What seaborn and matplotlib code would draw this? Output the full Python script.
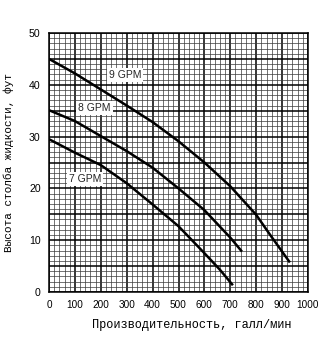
import numpy as np
import pandas as pd
import matplotlib
matplotlib.use("Agg")
import matplotlib.pyplot as plt
import seaborn as sns
from matplotlib.ticker import MultipleLocator

# Data
flow_9 = [0, 100, 200, 300, 400, 500, 600, 700, 800, 850, 930]
head_9 = [45.0, 42.2, 39.1, 36.0, 32.8, 29.1, 25.0, 20.4, 14.9, 11.3, 5.7]
flow_8 = [0, 100, 200, 300, 400, 500, 600, 700, 745]
head_8 = [35.1, 33.0, 30.1, 27.2, 24.0, 20.0, 15.8, 10.5, 7.8]
flow_7 = [0, 100, 200, 300, 400, 500, 600, 660, 710]
head_7 = [29.5, 26.9, 24.5, 21.0, 16.9, 12.7, 7.5, 4.3, 1.3]
series_names = ["9 GPM", "8 GPM", "7 GPM"]
label_pos_x = [293, 175, 139]
label_pos_y = [41.9, 35.5, 21.8]
x_ticks = list(range(0, 1001, 100))
y_ticks = list(range(0, 51, 10))
x_label = "Производительность, галл/мин"
y_label = "Высота столба жидкости, фут"

df = pd.concat([
    pd.DataFrame({"flow": flow_9, "head": head_9, "model": series_names[0]}),
    pd.DataFrame({"flow": flow_8, "head": head_8, "model": series_names[1]}),
    pd.DataFrame({"flow": flow_7, "head": head_7, "model": series_names[2]}),
])

sns.set_style("white")
fig = plt.figure(figsize=(3.35, 3.42), dpi=100)
ax = fig.add_axes([49/335, 1-292/342, (308-49)/335, (292-33)/342])

for name in series_names:
    sub = df[df["model"] == name]
    sns.lineplot(data=sub, x="flow", y="head", ax=ax, color="black",
                 linewidth=1.8, sort=True, legend=False, zorder=5,
                 solid_joinstyle="round", solid_capstyle="butt")

ax.set_xlim(0, 1000)
ax.set_ylim(0, 50)
ax.xaxis.set_minor_locator(MultipleLocator(20))
ax.yaxis.set_minor_locator(MultipleLocator(1))
ax.set_xticks(x_ticks)
ax.set_xticklabels([str(v) for v in x_ticks], fontfamily="Liberation Sans",
                   fontsize=7.2)
ytk = list(range(0, 51, 5))
ax.set_yticks(ytk)
ax.set_yticklabels([str(v) if v in y_ticks else "" for v in ytk],
                   fontfamily="Liberation Sans", fontsize=7.6)
ax.tick_params(which="both", length=0)
ax.tick_params(axis="x", pad=6, colors="black")
ax.tick_params(axis="y", pad=6, colors="black")
ax.grid(which="major", color="black", linewidth=1.1)
ax.grid(which="minor", color="#3a3a3a", linewidth=0.5)
ax.set_axisbelow(True)
for s in ax.spines.values():
    s.set_color("black")
    s.set_linewidth(1.1)

for name, lx, ly in zip(series_names, label_pos_x, label_pos_y):
    ax.text(lx, ly, name, ha="center", va="center", fontsize=7.5,
            fontfamily="Liberation Sans", zorder=6,
            bbox=dict(facecolor="white", edgecolor="none", pad=1.5))

ax.set_xlabel(x_label, fontfamily="Liberation Mono", fontsize=8.6,
              color="black")
ax.set_ylabel(y_label, fontfamily="Liberation Mono", fontsize=8,
              color="black")
ax.xaxis.set_label_coords(0.55, -0.105)
ax.yaxis.set_label_coords(-0.135, 0.5)

fig.savefig("out.png", dpi=100)
